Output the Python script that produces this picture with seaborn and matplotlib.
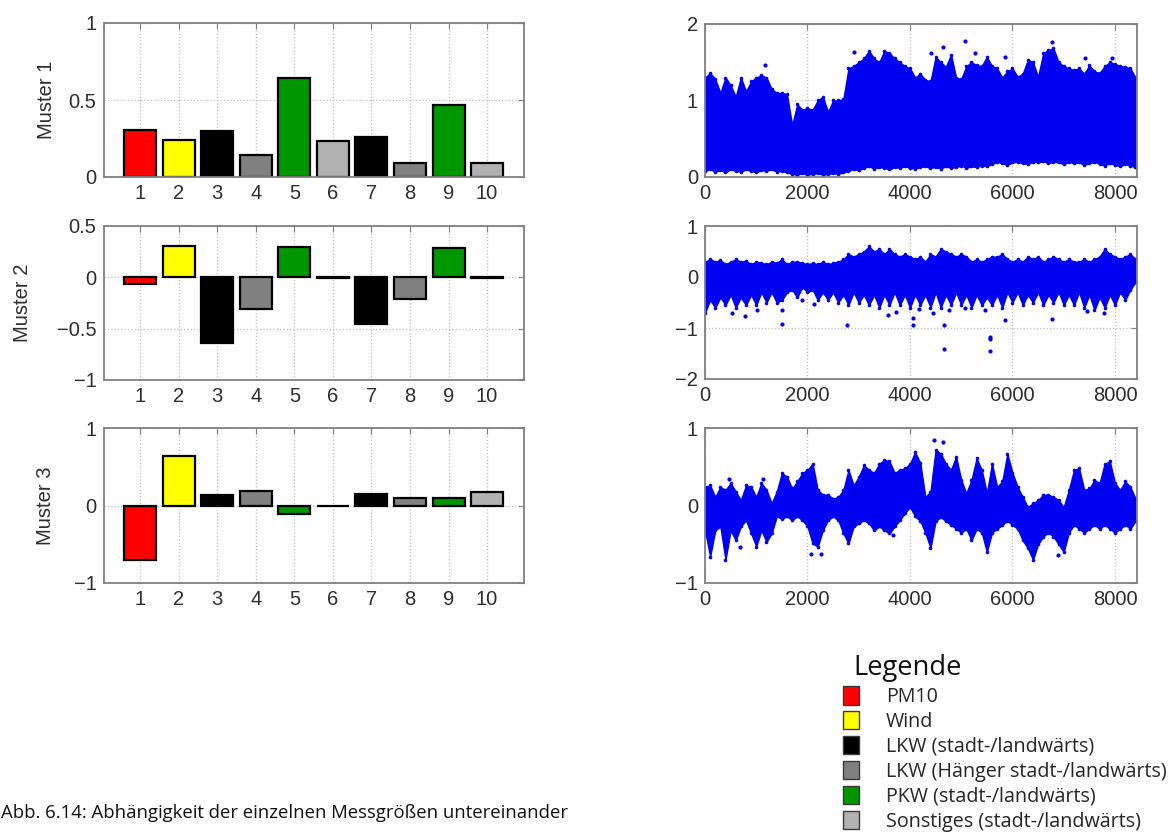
import numpy as np
import pandas as pd
import matplotlib
matplotlib.use("Agg")
import matplotlib.pyplot as plt
from matplotlib.patches import Patch
import seaborn as sns

# ---------------------------------------------------------------
# Gewichte der zehn Messgrößen in den drei Mustern
# ---------------------------------------------------------------
kanaele = ["1", "2", "3", "4", "5", "6", "7", "8", "9", "10"]
muster1 = [0.305, 0.24, 0.30, 0.143, 0.645, 0.236, 0.262, 0.093, 0.468, 0.089]
muster2 = [-0.065, 0.308, -0.637, -0.312, 0.298, -0.008, -0.458, -0.208, 0.285, -0.01]
muster3 = [-0.70, 0.64, 0.136, 0.188, -0.11, -0.006, 0.149, 0.10, 0.097, 0.17]

rot, gelb, schwarz, grau, gruen, hellgrau = "#ff0000", "#ffff00", "#000000", "#808080", "#009600", "#b2b2b2"
balken_farben = [rot, gelb, schwarz, grau, gruen, hellgrau, schwarz, grau, gruen, hellgrau]

legende_namen = ["PM10", "Wind", "LKW (stadt-/landwärts)", "LKW (Hänger stadt-/landwärts)",
                 "PKW (stadt-/landwärts)", "Sonstiges (stadt-/landwärts)"]
legende_farben = [rot, gelb, schwarz, grau, gruen, hellgrau]

# ---------------------------------------------------------------
# Zeitverläufe der Musterkoeffizienten: obere / untere Hüllkurve
# der Punktwolke in 100-h-Schritten, dazu einzelne Ausreißer
# ---------------------------------------------------------------
stunden = list(range(0, 8401, 100))

verlauf1_oben = [1.30, 1.36, 1.28, 1.10, 1.30, 1.20, 1.05, 1.30, 1.12, 1.25,
                 1.30, 1.33, 1.30, 1.15, 1.10, 1.10, 1.08, 0.68, 0.95, 0.88,
                 0.90, 0.88, 1.00, 1.05, 0.85, 1.00, 1.00, 1.02, 1.42, 1.45,
                 1.50, 1.55, 1.65, 1.55, 1.50, 1.65, 1.62, 1.55, 1.50, 1.45,
                 1.42, 1.30, 1.35, 1.27, 1.25, 1.57, 1.50, 1.44, 1.60, 1.30,
                 1.28, 1.45, 1.50, 1.46, 1.45, 1.57, 1.45, 1.42, 1.30, 1.38,
                 1.42, 1.31, 1.35, 1.53, 1.50, 1.31, 1.62, 1.66, 1.68, 1.50,
                 1.45, 1.42, 1.40, 1.42, 1.35, 1.46, 1.38, 1.36, 1.45, 1.50,
                 1.48, 1.45, 1.44, 1.42, 1.30]
verlauf1_unten = [0.08, 0.10, 0.07, 0.09, 0.06, 0.10, 0.08, 0.07, 0.10, 0.08,
                  0.06, 0.09, 0.08, 0.10, 0.07, 0.08, 0.06, 0.04, 0.03, 0.05,
                  0.03, 0.04, 0.05, 0.03, 0.04, 0.05, 0.04, 0.06, 0.08, 0.10,
                  0.09, 0.12, 0.14, 0.11, 0.13, 0.12, 0.10, 0.13, 0.12, 0.14,
                  0.12, 0.11, 0.13, 0.14, 0.12, 0.13, 0.11, 0.14, 0.12, 0.13,
                  0.15, 0.12, 0.14, 0.13, 0.15, 0.14, 0.17, 0.20, 0.18, 0.16,
                  0.19, 0.20, 0.18, 0.17, 0.20, 0.19, 0.21, 0.18, 0.20, 0.19,
                  0.17, 0.20, 0.18, 0.19, 0.16, 0.18, 0.20, 0.17, 0.15, 0.18,
                  0.16, 0.14, 0.17, 0.15, 0.13]
ausreisser1_x = [1176, 2908, 4412, 4640, 5065, 5261, 5850, 6765, 7418, 7941]
ausreisser1_y = [1.46, 1.63, 1.62, 1.70, 1.78, 1.62, 1.57, 1.77, 1.56, 1.55]

verlauf2_oben = [0.30, 0.35, 0.30, 0.33, 0.25, 0.30, 0.35, 0.30, 0.32, 0.25,
                 0.30, 0.28, 0.25, 0.30, 0.28, 0.35, 0.25, 0.30, 0.30, 0.28,
                 0.25, 0.28, 0.25, 0.30, 0.25, 0.28, 0.30, 0.35, 0.45, 0.40,
                 0.45, 0.50, 0.60, 0.50, 0.55, 0.45, 0.55, 0.45, 0.40, 0.45,
                 0.40, 0.35, 0.40, 0.30, 0.45, 0.40, 0.55, 0.50, 0.45, 0.40,
                 0.45, 0.40, 0.30, 0.35, 0.30, 0.35, 0.40, 0.40, 0.45, 0.35,
                 0.30, 0.35, 0.30, 0.40, 0.35, 0.40, 0.30, 0.35, 0.40, 0.35,
                 0.30, 0.35, 0.30, 0.30, 0.35, 0.30, 0.35, 0.40, 0.55, 0.45,
                 0.40, 0.35, 0.40, 0.45, 0.35]
verlauf2_unten = [-0.70, -0.45, -0.60, -0.40, -0.55, -0.35, -0.60, -0.40, -0.55, -0.35,
                  -0.55, -0.30, -0.50, -0.30, -0.50, -0.45, -0.30, -0.25, -0.40, -0.20,
                  -0.30, -0.25, -0.45, -0.30, -0.45, -0.30, -0.50, -0.35, -0.55, -0.30,
                  -0.50, -0.35, -0.55, -0.35, -0.60, -0.35, -0.55, -0.30, -0.55, -0.35,
                  -0.60, -0.35, -0.55, -0.35, -0.60, -0.30, -0.60, -0.35, -0.55, -0.30,
                  -0.55, -0.35, -0.60, -0.35, -0.55, -0.40, -0.55, -0.35, -0.60, -0.30,
                  -0.50, -0.30, -0.55, -0.35, -0.50, -0.30, -0.55, -0.35, -0.50, -0.30,
                  -0.55, -0.35, -0.55, -0.30, -0.60, -0.35, -0.65, -0.40, -0.60, -0.35,
                  -0.55, -0.30, -0.45, -0.25, -0.10]
ausreisser2_x = [523, 784, 1013, 1503, 1503, 1895, 2124, 2778, 3562, 3725, 4052, 4052, 4183,
                 4444, 4673, 4673, 4771, 5065, 5458, 5556, 5556, 5569, 5850, 6765, 7451, 7778]
ausreisser2_y = [-0.71, -0.76, -0.65, -0.65, -0.92, -0.45, -0.52, -0.94, -0.75, -0.68, -0.81,
                 -0.94, -0.63, -0.71, -0.94, -1.41, -0.65, -0.61, -0.65, -1.17, -1.22, -1.45,
                 -0.84, -0.83, -0.67, -0.71]

verlauf3_oben = [0.24, 0.26, 0.11, 0.24, 0.20, 0.29, 0.18, 0.07, 0.26, 0.24,
                 0.11, 0.29, 0.20, 0.03, 0.18, 0.42, 0.37, 0.22, 0.31, 0.42,
                 0.46, 0.54, 0.20, 0.14, 0.14, 0.09, 0.11, 0.20, 0.46, 0.26,
                 0.37, 0.52, 0.46, 0.42, 0.54, 0.59, 0.57, 0.42, 0.46, 0.48,
                 0.54, 0.69, 0.55, 0.11, 0.18, 0.72, 0.67, 0.54, 0.46, 0.63,
                 0.33, 0.16, 0.33, 0.61, 0.46, 0.16, 0.54, 0.24, 0.31, 0.67,
                 0.42, 0.24, 0.11, -0.02, 0.03, 0.07, 0.14, 0.14, 0.11, 0.07,
                 -0.02, 0.20, 0.46, 0.48, 0.20, 0.22, 0.33, 0.29, 0.54, 0.57,
                 0.29, 0.20, 0.31, 0.24, 0.09]
verlauf3_unten = [-0.32, -0.66, -0.32, -0.27, -0.70, -0.32, -0.45, -0.27, -0.19, -0.36,
                  -0.53, -0.32, -0.47, -0.36, -0.14, -0.17, -0.14, -0.19, -0.14, -0.19,
                  -0.27, -0.49, -0.53, -0.32, -0.19, -0.14, -0.19, -0.36, -0.49, -0.27,
                  -0.23, -0.19, -0.23, -0.32, -0.27, -0.32, -0.36, -0.27, -0.19, -0.10,
                  -0.02, -0.14, -0.20, -0.35, -0.55, -0.20, -0.15, -0.20, -0.25, -0.30,
                  -0.35, -0.30, -0.45, -0.30, -0.35, -0.60, -0.35, -0.30, -0.25, -0.20,
                  -0.25, -0.30, -0.45, -0.55, -0.70, -0.50, -0.40, -0.35, -0.40, -0.50,
                  -0.60, -0.35, -0.25, -0.30, -0.35, -0.30, -0.25, -0.30, -0.25, -0.30,
                  -0.35, -0.30, -0.25, -0.30, -0.20]
ausreisser3_x = [477, 1130, 686, 2059, 2255, 3660, 4477, 4641, 6895]
ausreisser3_y = [0.34, 0.34, -0.54, -0.63, -0.63, -0.38, 0.845, 0.815, -0.64]

# ---------------------------------------------------------------
# Darstellung
# ---------------------------------------------------------------
sns.set_style("white")
plt.rcParams["font.family"] = ["Liberation Sans", "DejaVu Sans"]

blau = "#0000f2"
rahmen = "#808080"
textfarbe = "#2e2e2e"
gitter = dict(linestyle=":", color="#bdbdbd", linewidth=0.9)

W, H = 1170, 832
fig = plt.figure(figsize=(W / 100, H / 100), dpi=100)


def achse(x0, y0, x1, y1):
    return fig.add_axes([x0 / W, 1 - y1 / H, (x1 - x0) / W, (y1 - y0) / H])


def rahmen_stil(ax):
    for s in ax.spines.values():
        s.set_color(rahmen)
        s.set_linewidth(1.3)
    ax.tick_params(direction="in", top=True, right=True, length=4, width=0.8,
                   color=rahmen, labelcolor=textfarbe, labelsize=14.5, pad=5)
    ax.grid(True, **gitter)
    ax.set_axisbelow(True)


def zahl(v):
    return f"{v:g}".replace("-", "\u2212")


# linke Spalte: Balkendiagramme
balken_daten = [(muster1, "Muster 1", (0, 1), [0, 0.5, 1], -0.113),
                (muster2, "Muster 2", (-1, 0.5), [-1, -0.5, 0, 0.5], -0.170),
                (muster3, "Muster 3", (-1, 1), [-1, 0, 1], -0.115)]
links = [(103.5, 23, 523.7, 177), (103.5, 226, 523.7, 380), (103.5, 428, 523.7, 583)]

for (werte, name, grenzen, yt, lx), pos in zip(balken_daten, links):
    ax = achse(*pos)
    df = pd.DataFrame({"kanal": kanaele, "wert": werte})
    sns.barplot(data=df, x="kanal", y="wert", hue="kanal", order=kanaele, hue_order=kanaele,
                palette=dict(zip(kanaele, balken_farben)), legend=False, width=0.83,
                saturation=1, edgecolor="black", linewidth=1.6, errorbar=None, ax=ax)
    ax.set_xlim(-0.95, 9.95)
    ax.set_ylim(*grenzen)
    ax.set_yticks(yt)
    ax.set_yticklabels([zahl(v) for v in yt])
    ax.set_xlabel("")
    ax.set_ylabel(name, fontsize=14.5, color=textfarbe)
    ax.yaxis.set_label_coords(lx, 0.5)
    rahmen_stil(ax)

# rechte Spalte: Zeitverläufe
verlauf_daten = [(verlauf1_oben, verlauf1_unten, ausreisser1_x, ausreisser1_y, (0, 2), [0, 1, 2]),
                 (verlauf2_oben, verlauf2_unten, ausreisser2_x, ausreisser2_y, (-2, 1), [-2, -1, 0, 1]),
                 (verlauf3_oben, verlauf3_unten, ausreisser3_x, ausreisser3_y, (-1, 1), [-1, 0, 1])]
rechts = [(705, 24, 1137, 177), (705, 226, 1137, 379), (705, 428, 1137, 583)]
xt = [0, 2000, 4000, 6000, 8000]

for (oben, unten, ax_x, ax_y, grenzen, yt), pos in zip(verlauf_daten, rechts):
    ax = achse(*pos)
    ax.fill_between(stunden, unten, oben, facecolor=blau, edgecolor=blau, linewidth=1.0, zorder=2)
    ax.plot(stunden, oben, ls="none", marker="o", ms=2.6, mec="none", color=blau, zorder=2)
    ax.plot(stunden, unten, ls="none", marker="o", ms=2.6, mec="none", color=blau, zorder=2)
    sns.scatterplot(x=ax_x, y=ax_y, color=blau, s=9, linewidth=0, ax=ax, zorder=3)
    ax.set_xlim(0, 8430)
    ax.set_ylim(*grenzen)
    ax.set_xticks(xt)
    ax.set_xticklabels([zahl(v) for v in xt])
    ax.set_yticks(yt)
    ax.set_yticklabels([zahl(v) for v in yt])
    rahmen_stil(ax)

# Legende
schrift = ["Open Sans", "DejaVu Sans"]
fig.text(853 / W, 1 - 668 / H, "Legende", fontsize=19.7, family=schrift, va="center", ha="left",
         color="#111111")
griffe = [Patch(facecolor=c, edgecolor="#3a3a3a", linewidth=1.0) for c in legende_farben]
fig.legend(handles=griffe, labels=legende_namen, loc="upper left",
           bbox_to_anchor=(843 / W, 1 - 686 / H), frameon=False,
           prop={"family": schrift, "size": 14.2}, handlelength=0.82, handleheight=1.07,
           handletextpad=1.37, labelspacing=0.2, borderpad=0, borderaxespad=0)

# Bildunterschrift
fig.text(1 / W, 1 - 813 / H, "Abb. 6.14: Abhängigkeit der einzelnen Messgrößen untereinander",
         fontsize=13.3, family=schrift, va="center", ha="left", color="#111111")

fig.savefig("out.png", dpi=100)
